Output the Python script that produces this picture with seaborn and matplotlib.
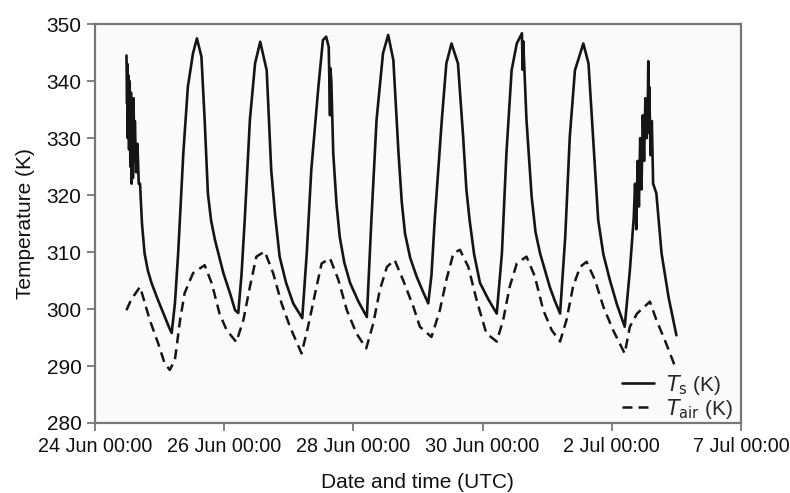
import numpy as np
import pandas as pd
import seaborn as sns
import matplotlib.pyplot as plt

# days since 24 Jun 00:00 UTC, temperatures in K
ts_day = [0.49, 0.50, 0.505, 0.51, 0.52, 0.53, 0.54, 0.55, 0.56, 0.57, 0.58, 0.59, 0.60,
          0.61, 0.62, 0.64, 0.66, 0.68, 0.70, 0.73, 0.77, 0.82, 0.88, 0.97, 1.06, 1.16, 1.19,
          1.24, 1.29, 1.37, 1.44, 1.52, 1.58, 1.65, 1.70, 1.75, 1.80, 1.86, 1.99, 2.10, 2.17, 2.22,
          2.27, 2.32, 2.40, 2.48, 2.56, 2.66, 2.73, 2.79, 2.86, 2.96, 3.07, 3.21,
          3.28, 3.35, 3.46, 3.53, 3.58, 3.62, 3.64, 3.645, 3.66, 3.69, 3.74, 3.79, 3.86, 3.95,
          4.08, 4.21, 4.28, 4.36, 4.46, 4.54, 4.62, 4.70, 4.75, 4.80, 4.88, 4.98, 5.08, 5.16,
          5.21, 5.26, 5.37, 5.44, 5.52, 5.62, 5.70, 5.75, 5.80, 5.87, 5.96, 6.09, 6.22,
          6.30, 6.37, 6.45, 6.53, 6.61, 6.62, 6.63, 6.68, 6.76, 6.82, 6.89, 7.04, 7.12, 7.20,
          7.28, 7.35, 7.43, 7.56, 7.64, 7.71, 7.79, 7.87, 7.97, 8.08, 8.20,
          8.28, 8.34, 8.36, 8.38, 8.40, 8.42, 8.44, 8.46, 8.48, 8.50, 8.52, 8.54,
          8.56, 8.565, 8.57, 8.58, 8.60, 8.62, 8.64, 8.69, 8.77, 8.88, 9.00]
ts_val = [344.5, 336, 343, 330, 341, 328, 340, 325, 338, 322, 335, 323, 337,
          326, 333, 324, 329, 322, 322, 315, 309.8, 306.8, 304.5, 301.8, 299.3, 296.5, 295.8,
          301, 309.8, 327.4, 339, 344.9, 347.5, 344.3, 333.2, 320.3, 315.5, 312.1, 306.3, 302.5, 299.8, 299.3,
          306, 315.6, 333.2, 343.1, 346.9, 341.9, 324.4, 316.5, 309.2, 304.6, 301, 298.4,
          309.8, 324.4, 339, 347.2, 347.8, 346, 334, 342.3, 340, 327.3, 318.5, 312.7, 308.2, 304.6,
          301.3, 298.6, 315.6, 333.2, 344.9, 348.1, 343.7, 327.3, 318.8, 313.3, 309, 305.7, 303, 301,
          306, 315.6, 333.2, 343.1, 346.6, 343.1, 330.2, 321, 315.6, 309.6, 304.6, 301.7, 299.2,
          309.8, 327.4, 341.9, 346.6, 348.4, 342, 347, 333.2, 319.7, 313.5, 309.8, 303.9, 301.4, 299.2,
          312.7, 330.2, 341.9, 346.6, 343.1, 330.2, 315.6, 309.6, 305.1, 300.8, 296.9,
          306.8, 316, 322, 314, 326, 318, 330, 321, 334, 326, 337, 330,
          338, 343.5, 331, 339, 327, 333, 322, 320.3, 309.8, 302, 295.4]

tair_day = [0.49, 0.56, 0.70, 0.75, 0.85, 0.98, 1.08, 1.16, 1.24, 1.32, 1.39, 1.52, 1.70,
            1.81, 1.93, 2.04, 2.19, 2.30, 2.40, 2.50, 2.63, 2.76, 2.89, 3.02, 3.20,
            3.30, 3.41, 3.51, 3.64, 3.77, 3.90, 4.05, 4.20, 4.31, 4.41, 4.52, 4.64,
            4.77, 4.93, 5.03, 5.21, 5.34, 5.44, 5.55, 5.65, 5.78, 5.91, 6.06, 6.22,
            6.32, 6.42, 6.53, 6.68, 6.81, 6.94, 7.07, 7.20, 7.30, 7.40, 7.51, 7.61,
            7.74, 7.87, 8.02, 8.20, 8.28, 8.39, 8.59, 8.69, 8.84, 9.00]
tair_val = [299.8, 301.6, 303.9, 302, 298.1, 294, 290.5, 289.3, 291.1, 298.1, 302.8, 306.3, 307.7,
            304.5, 299.2, 296.3, 294.2, 298.1, 303.9, 309.2, 310.1, 306.3, 301, 296.9, 292.2,
            296.9, 302.8, 308, 308.9, 305.1, 299.8, 295.7, 293.1, 297.5, 303.3, 307.4, 308.6,
            305.1, 300.4, 296.9, 295.1, 299.8, 305.1, 309.8, 310.4, 307.4, 301.5, 295.7, 294.3,
            298.1, 303.9, 308, 309.2, 305.7, 299.8, 296.3, 294.3, 298.1, 303.9, 307.4, 308.3,
            305.1, 300.4, 296.3, 292.2, 296.9, 299.2, 301.3, 298.1, 294, 289.3]

tick_days = [0, 2, 4, 6, 8, 10]
tick_labels = ['24 Jun 00:00', '26 Jun 00:00', '28 Jun 00:00', '30 Jun 00:00',
               '2 Jul 00:00', '7 Jul 00:00']

sns.set_style('ticks')
plt.rcParams['font.family'] = ['Liberation Sans', 'DejaVu Sans']

fig = plt.figure(figsize=(7.9, 4.93), dpi=100)
ax = fig.add_axes([0.120, 0.142, 0.818, 0.809])
ax.set_facecolor('#fafafa')

sns.lineplot(x=ts_day, y=ts_val, ax=ax, color='#151515', linewidth=1.9,
             label=r'$T_\mathrm{s}$ (K)', sort=False)
sns.lineplot(x=tair_day, y=tair_val, ax=ax, color='#151515', linewidth=1.8,
             linestyle=(0, (4, 2.4)), label=r'$T_\mathrm{air}$ (K)', sort=False)

ax.set_xlim(0, 10)
ax.set_ylim(280, 350)
ax.set_xticks(tick_days)
ax.set_xticklabels(tick_labels)
ax.set_yticks(range(280, 351, 10))
ax.tick_params(axis='both', colors='#777777', labelcolor='#111111', length=6, width=1.3,
               labelsize=14.2)
ax.tick_params(axis='y', labelsize=15)
ax.tick_params(axis='x', pad=4)
for sp in ax.spines.values():
    sp.set_color('#777777')
    sp.set_linewidth(1.6)

ax.set_xlabel('Date and time (UTC)', fontsize=15, labelpad=12, color='#111111')
ax.set_ylabel('Temperature (K)', fontsize=15, labelpad=8, color='#111111')

ax.legend(loc='lower right', bbox_to_anchor=(1.0, -0.015), frameon=False, fontsize=15,
          handlelength=1.5, handletextpad=0.6, labelspacing=0.0, borderaxespad=0.0)

fig.savefig('out.png', dpi=100)
